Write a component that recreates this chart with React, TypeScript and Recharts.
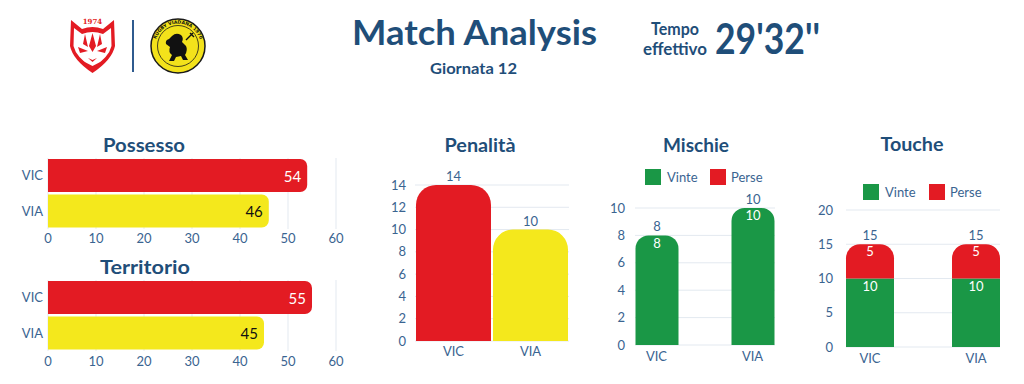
import React from 'react';
import { BarChart, Bar, XAxis, YAxis, CartesianGrid, LabelList, Cell, Legend } from 'recharts';

const FONT = 'Lato, "Open Sans", sans-serif';
const BLUE = '#1F4E79';
const TICK = '#3A6491';
const RED = '#E31B23';
const YELLOW = '#F4E81C';
const GREEN = '#1A9746';
const GRID = '#E3E9F0';

// ---- data ----
const categories = ['VIC', 'VIA'];
const possessoValues = [54, 46];
const territorioValues = [55, 45];
const penalitaValues = [14, 10];
const mischieVinte = [8, 10];
const mischiePerse = [0, 0];
const toucheVinte = [10, 10];
const touchePerse = [5, 5];
const seriesNames = ['Vinte', 'Perse'];
const percentTicks = [0, 10, 20, 30, 40, 50, 60];
const penalitaTicks = [0, 2, 4, 6, 8, 10, 12, 14];
const mischieTicks = [0, 2, 4, 6, 8, 10];
const toucheTicks = [0, 5, 10, 15, 20];
const mainTitle = 'Match Analysis';
const subTitle = 'Giornata 12';
const tempoLabel = ['Tempo', 'effettivo'];
const tempoValue = "29'32''";
const chartTitles = ['Possesso', 'Territorio', 'Penalità', 'Mischie', 'Touche'];

const teamColors = [RED, YELLOW];
const teamLabelColors = ['#FFFFFF', '#111111'];

const tickStyle = { fill: TICK, fontSize: 13, fontFamily: FONT };

const InsideRightLabel = (props: any) => {
  const { x, y, width, height, value, index } = props;
  return (
    <text
      x={x + width - 6}
      y={y + height / 2}
      textAnchor="end"
      dominantBaseline="central"
      fill={teamLabelColors[index] || '#fff'}
      fontSize={15}
      fontFamily={FONT}
    >
      {value}
    </text>
  );
};

function HBarChart({ values, top, marginTop, tickMargin }: any) {
  const data = categories.map((c, i) => ({ team: c, value: values[i] }));
  return (
    <div style={{ position: 'absolute', left: 0, top, width: 350, height: 100 }}>
      <BarChart
        width={350}
        height={100}
        data={data}
        layout="vertical"
        margin={{ top: marginTop, right: 14, left: 0, bottom: 0 }}
        barSize={33}
      >
        <CartesianGrid horizontal={false} stroke={GRID} />
        <XAxis
          type="number"
          domain={[0, 60]}
          ticks={percentTicks}
          interval={0}
          axisLine={false}
          tickLine={false}
          tickSize={0}
          tickMargin={tickMargin}
          height={100 - 71 - marginTop}
          tick={tickStyle}
        />
        <YAxis
          type="category"
          dataKey="team"
          width={48}
          axisLine={false}
          tickLine={false}
          tickSize={0}
          tickMargin={5}
          tick={tickStyle}
        />
        <Bar dataKey="value" radius={[0, 7, 7, 0]} isAnimationActive={false}>
          {data.map((d, i) => (
            <Cell key={d.team} fill={teamColors[i]} />
          ))}
          <LabelList dataKey="value" content={InsideRightLabel} />
        </Bar>
      </BarChart>
    </div>
  );
}

function PenalitaChart() {
  const data = categories.map((c, i) => ({ team: c, value: penalitaValues[i] }));
  return (
    <div style={{ position: 'absolute', left: 370, top: 160, width: 210, height: 210 }}>
      <BarChart width={210} height={210} data={data} margin={{ top: 25, right: 11, left: 0, bottom: 0 }} barSize={75}>
        <CartesianGrid vertical={false} stroke={GRID} />
        <XAxis dataKey="team" height={29} axisLine={false} tickLine={false} tickSize={0} tickMargin={6} tick={tickStyle} />
        <YAxis
          width={45}
          domain={[0, 14]}
          ticks={penalitaTicks}
          interval={0}
          axisLine={false}
          tickLine={false}
          tickSize={0}
          tickMargin={9}
          tick={tickStyle}
        />
        <Bar dataKey="value" radius={[20, 20, 0, 0]} isAnimationActive={false}>
          {data.map((d, i) => (
            <Cell key={d.team} fill={teamColors[i]} />
          ))}
          <LabelList dataKey="value" position="top" offset={4} fill={TICK} fontSize={13} fontFamily={FONT} />
        </Bar>
      </BarChart>
    </div>
  );
}

const makeLegend = (positions: number[]) => () => (
  <div style={{ position: 'relative', height: 16, fontFamily: FONT, fontSize: 13, color: TICK }}>
    <span style={{ position: 'absolute', left: positions[0], top: 0, width: 16, height: 16, background: GREEN }} />
    <span style={{ position: 'absolute', left: positions[1], top: 0, lineHeight: '16px' }}>{seriesNames[0]}</span>
    <span style={{ position: 'absolute', left: positions[2], top: 0, width: 16, height: 16, background: RED }} />
    <span style={{ position: 'absolute', left: positions[3], top: 0, lineHeight: '16px' }}>{seriesNames[1]}</span>
  </div>
);

function StackedChart({ left, top, width, height, marginTop, legendHeight, xAxisHeight, right, yWidth, padding, barSize, radius, domain, ticks, vinte, perse, legendPos, tickMarginY }: any) {
  const data = categories.map((c, i) => ({ team: c, vinte: vinte[i], perse: perse[i], total: vinte[i] + perse[i] }));
  const allZeroPerse = perse.every((p: number) => p === 0);
  const labelProps = { fontSize: 13, fontFamily: FONT };
  return (
    <div style={{ position: 'absolute', left, top, width, height }}>
      <BarChart width={width} height={height} data={data} margin={{ top: marginTop, right, left: 0, bottom: 0 }} barSize={barSize}>
        <CartesianGrid vertical={false} stroke={GRID} />
        <Legend verticalAlign="top" align="left" height={legendHeight} content={makeLegend(legendPos)} />
        <XAxis dataKey="team" height={xAxisHeight} padding={padding} axisLine={false} tickLine={false} tickSize={0} tickMargin={7} tick={tickStyle} />
        <YAxis
          width={yWidth}
          domain={domain}
          ticks={ticks}
          interval={0}
          axisLine={false}
          tickLine={false}
          tickSize={0}
          tickMargin={tickMarginY}
          tick={tickStyle}
        />
        <Bar dataKey="vinte" name={seriesNames[0]} stackId="s" fill={GREEN} radius={allZeroPerse ? radius : [0, 0, 0, 0]} isAnimationActive={false}>
          <LabelList dataKey="vinte" position="insideTop" offset={3} fill="#FFFFFF" {...labelProps} />
          {allZeroPerse && <LabelList dataKey="total" position="top" offset={4} fill={TICK} {...labelProps} />}
        </Bar>
        <Bar dataKey="perse" name={seriesNames[1]} stackId="s" fill={RED} radius={radius} isAnimationActive={false}>
          {!allZeroPerse && <LabelList dataKey="perse" position="insideTop" offset={3} fill="#FFFFFF" {...labelProps} />}
          {!allZeroPerse && <LabelList dataKey="total" position="top" offset={4} fill={TICK} {...labelProps} />}
        </Bar>
      </BarChart>
    </div>
  );
}

function Logos() {
  return (
    <g>
      {/* red cat shield */}
      <path d="M71,20 L82,29 Q92.5,25 103,29 L114,20 L115,46 Q112,60 92.5,73 Q73,60 70,46 Z" fill={RED} />
      <path d="M74,28 L82,34 Q92.5,30 103,34 L111,28 L111.5,46 Q109,57 92.5,68 Q76,57 73.5,46 Z" fill="#FFFFFF" />
      <path d="M92.5,33 L89,46 L92.5,52 L96,46 Z" fill={RED} />
      <path d="M85,34 L88,47 L83,44 Z M100,34 L97,47 L102,44 Z" fill={RED} />
      <path d="M78,47 L88,51 L80,53 Z M107,47 L97,51 L105,53 Z" fill={RED} />
      <path d="M88,58 L92.5,62 L97,58 L92.5,60 Z" fill={RED} />
      <path d="M77,58 L92.5,70 L108,58 L92.5,66 Z" fill={RED} />
      <text x={92.5} y={24} textAnchor="middle" fontSize={7} fontWeight={700} fill={RED} fontFamily="DejaVu Serif, serif">1974</text>
      {/* separator */}
      <line x1={133} y1={20} x2={133} y2={72} stroke="#2F5B8F" strokeWidth={2} />
      {/* yellow round logo */}
      <circle cx={178} cy={46} r={27} fill="#F3E21B" stroke="#1a1a1a" strokeWidth={1.5} />
      <circle cx={178} cy={46} r={20.5} fill="none" stroke="#1a1a1a" strokeWidth={0.8} />
      <defs>
        <path id="ringPath" d="M157,56 A23,23 0 1,1 199,56" />
      </defs>
      <text fontSize={4.6} fontWeight={700} fill="#111" fontFamily="DejaVu Sans, sans-serif">
        <textPath href="#ringPath" startOffset="50%" textAnchor="middle">RUGBY VIADANA 1970</textPath>
      </text>
      <path
        d="M172,36 Q176,32 181,35 Q184,38 182,42 L186,46 Q188,50 185,55 L188,60 L183,60 L181,56 L176,57 L174,61 L169,61 L172,55 Q168,52 170,47 L166,44 Q165,40 169,39 Z"
        fill="#111"
      />
      <path d="M186,40 L193,33 M190,33 L194,37" stroke="#111" strokeWidth={1.4} />
    </g>
  );
}

export default function App() {
  const t = (x: number, y: number, size: number, len: number, txt: string) => (
    <text
      x={x}
      y={y}
      textAnchor="middle"
      fontSize={size}
      fontWeight={700}
      fill={BLUE}
      fontFamily={FONT}
      textLength={len}
      lengthAdjust="spacingAndGlyphs"
    >
      {txt}
    </text>
  );
  return (
    <div style={{ position: 'absolute', left: 0, top: 0, width: 1024, height: 384, background: '#FFFFFF', overflow: 'hidden', fontFamily: FONT }}>
      <svg width={1024} height={384} style={{ position: 'absolute', left: 0, top: 0 }}>
        <Logos />
        {t(474.5, 45, 35, 245, mainTitle)}
        {t(473.5, 74, 15.5, 87, subTitle)}
        {t(675, 35, 16.5, 48, tempoLabel[0])}
        {t(675, 55, 16.5, 64, tempoLabel[1])}
        {t(767.5, 54, 42, 105, tempoValue)}
        {t(144, 152, 19, 82, chartTitles[0])}
        {t(145, 274, 19, 90, chartTitles[1])}
        {t(480, 152, 19, 71, chartTitles[2])}
        {t(696, 152, 19, 66, chartTitles[3])}
        {t(912, 151, 19, 63, chartTitles[4])}
      </svg>
      <HBarChart values={possessoValues} top={150} marginTop={8} tickMargin={5} />
      <HBarChart values={territorioValues} top={270} marginTop={10} tickMargin={6} />
      <PenalitaChart />
      <StackedChart
        left={600}
        top={165}
        width={190}
        height={200}
        marginTop={4}
        legendHeight={39}
        xAxisHeight={20}
        yWidth={35}
        right={15}
        padding={{ left: -26.5, right: -25.5 }}
        barSize={43}
        radius={[13, 13, 0, 0]}
        domain={[0, 10]}
        ticks={mischieTicks}
        vinte={mischieVinte}
        perse={mischiePerse}
        legendPos={[45, 67, 110, 131]}
        tickMarginY={10}
      />
      <StackedChart
        left={800}
        top={180}
        width={215}
        height={190}
        marginTop={4}
        legendHeight={26}
        xAxisHeight={23}
        yWidth={46}
        right={15}
        padding={{ left: -29, right: -29 }}
        barSize={48}
        radius={[14, 14, 0, 0]}
        domain={[0, 20]}
        ticks={toucheTicks}
        vinte={toucheVinte}
        perse={touchePerse}
        legendPos={[63, 85, 129, 150]}
        tickMarginY={13}
      />
    </div>
  );
}
